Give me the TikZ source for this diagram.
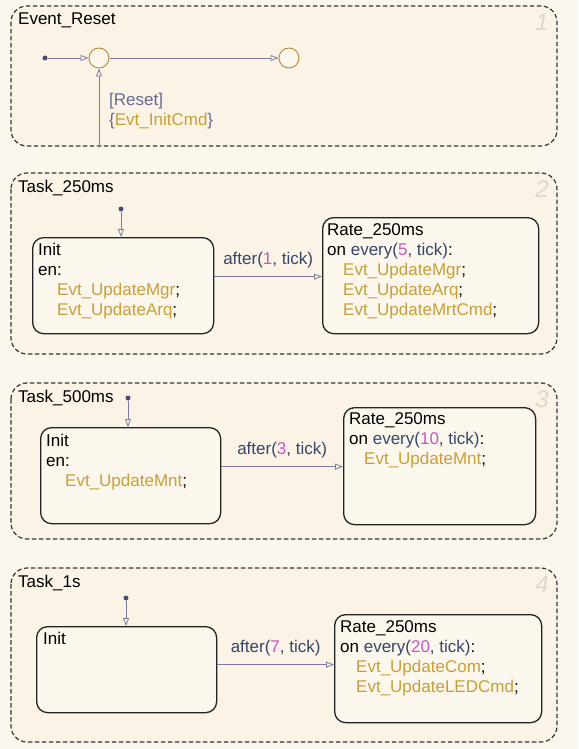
\documentclass[tikz,border=0pt]{standalone}
\usepackage{fontspec}
\setmainfont{Liberation Sans}
\usetikzlibrary{arrows.meta}

\definecolor{bgcol}{RGB}{252,247,238}
\definecolor{chartfill}{RGB}{250,243,230}
\definecolor{statefill}{RGB}{252,247,237}
\definecolor{chartline}{RGB}{55,55,55}
\definecolor{stateline}{RGB}{35,35,35}
\definecolor{transline}{RGB}{125,122,160}
\definecolor{juncline}{RGB}{190,140,60}
\definecolor{dotcol}{RGB}{75,75,115}
\definecolor{kwcol}{RGB}{55,70,105}
\definecolor{numbercol}{RGB}{195,90,190}
\definecolor{evtcol}{RGB}{200,158,55}
\definecolor{guardcol}{RGB}{105,105,150}
\definecolor{chartnocol}{RGB}{222,216,205}

\newcommand{\evtname}[1]{\textcolor{evtcol}{#1}}
\newcommand{\kwd}[1]{\textcolor{kwcol}{#1}}
\newcommand{\tnum}[1]{\textcolor{numbercol}{#1}}

\begin{document}
\begin{tikzpicture}[x=1pt, y=-1pt, font=\fontsize{17}{20}\selectfont]
  \tikzset{
    chart/.style={draw=chartline, fill=chartfill, dash pattern=on 4.5pt off 2.5pt, line width=1.2pt, rounded corners=16pt},
    state/.style={draw=stateline, fill=statefill, line width=1.3pt, rounded corners=11pt, inner sep=0pt, anchor=north west},
    txt/.style={inner sep=0pt, anchor=north west, align=left},
    trans/.style={draw=transline, line width=0.8pt, -{Triangle[open, length=8pt, width=6pt]}},
    junction/.style={circle, draw=juncline, fill=statefill, line width=1pt, minimum size=20pt, inner sep=0pt},
    dflt/.style={circle, fill=dotcol, minimum size=5pt, inner sep=0pt},
    chartno/.style={font=\fontsize{24}{24}\selectfont\itshape, text=chartnocol, anchor=north east, inner sep=0pt}
  }
  \useasboundingbox (0,0) rectangle (578,749);
  \fill[bgcol] (0,0) rectangle (578,749);
  % ---- the four parallel charts ----
  \foreach \n/\t/\ya/\yb in {1/Event\_Reset/6/146, 2/Task\_250ms/173/354, 3/Task\_500ms/383/539, 4/Task\_1s/568/742} {
    \draw[chart] (11,\ya) rectangle (557,\yb);
    \node[txt] (title\n) at (18,\ya+7) {\t};
    \node[chartno] (no\n) at (549,\ya+8) {\n};
  }
  % ---- 1: reset junctions ----
  \node[dflt] (d1) at (45,58) {};
  \node[junction] (j1) at (99,58) {};
  \node[junction] (j2) at (289,58) {};
  \coordinate (r1) at (99,146);
  \draw[trans] (d1) -- (j1);
  \draw[trans] (j1) -- (j2);
  \draw[trans] (r1) -- (j1);
  \node[txt] (g1) at (109,93) {\textcolor{guardcol}{[Reset]}\\
    \textcolor{guardcol}{\{}\evtname{Evt\_InitCmd}\textcolor{guardcol}{\}}};
  % ---- 2: 250ms ----
  \node[dflt] (d2) at (121,209) {};
  \node[state, minimum width=181pt, minimum height=96pt] (init2) at (32,237) {};
  \node[state, minimum width=216pt, minimum height=116pt] (rate2) at (322,217) {};
  \node[txt] at (38,243) {Init\\en:\\
    \hspace*{19pt}\evtname{Evt\_UpdateMgr};\\
    \hspace*{19pt}\evtname{Evt\_UpdateArq};};
  \node[txt] at (327,223) {Rate\_250ms\\on \kwd{every(}\tnum{5}\kwd{, tick)}:\\
    \hspace*{16pt}\evtname{Evt\_UpdateMgr};\\
    \hspace*{16pt}\evtname{Evt\_UpdateArq};\\
    \hspace*{16pt}\evtname{Evt\_UpdateMrtCmd};};
  \draw[trans] (d2) -- (d2 |- init2.north);
  \draw[trans] ([yshift=9pt]init2.east) -- node[above=8pt, inner sep=0pt] (a2) {\kwd{after(}\tnum{1}\kwd{, tick)}} ([yshift=9pt]init2.east -| rate2.west);
  % ---- 3: 500ms ----
  \node[dflt] (d3) at (128,398) {};
  \node[state, minimum width=180pt, minimum height=96pt] (init3) at (40,427) {};
  \node[state, minimum width=192pt, minimum height=117pt] (rate3) at (343,407) {};
  \node[txt] at (46,434) {Init\\en:\\
    \hspace*{19pt}\evtname{Evt\_UpdateMnt};};
  \node[txt] at (349,412) {Rate\_250ms\\on \kwd{every(}\tnum{10}\kwd{, tick)}:\\
    \hspace*{15pt}\evtname{Evt\_UpdateMnt};};
  \draw[trans] (d3) -- (d3 |- init3.north);
  \draw[trans] ([yshift=9pt]init3.east) -- node[above=8pt, inner sep=0pt] (a3) {\kwd{after(}\tnum{3}\kwd{, tick)}} ([yshift=9pt]init3.east -| rate3.west);
  % ---- 4: 1s ----
  \node[dflt] (d4) at (126,598) {};
  \node[state, minimum width=180pt, minimum height=86pt] (init4) at (36,626) {};
  \node[state, minimum width=207pt, minimum height=108pt] (rate4) at (334,614) {};
  \node[txt] at (43,632) {Init};
  \node[txt] at (340,620) {Rate\_250ms\\on \kwd{every(}\tnum{20}\kwd{, tick)}:\\
    \hspace*{16pt}\evtname{Evt\_UpdateCom};\\
    \hspace*{16pt}\evtname{Evt\_UpdateLEDCmd};};
  \draw[trans] (d4) -- (d4 |- init4.north);
  \draw[trans] ([yshift=5pt]init4.east) -- node[above=8pt, inner sep=0pt] (a4) {\kwd{after(}\tnum{7}\kwd{, tick)}} ([yshift=5pt]init4.east -| rate4.west);
\end{tikzpicture}
\end{document}
